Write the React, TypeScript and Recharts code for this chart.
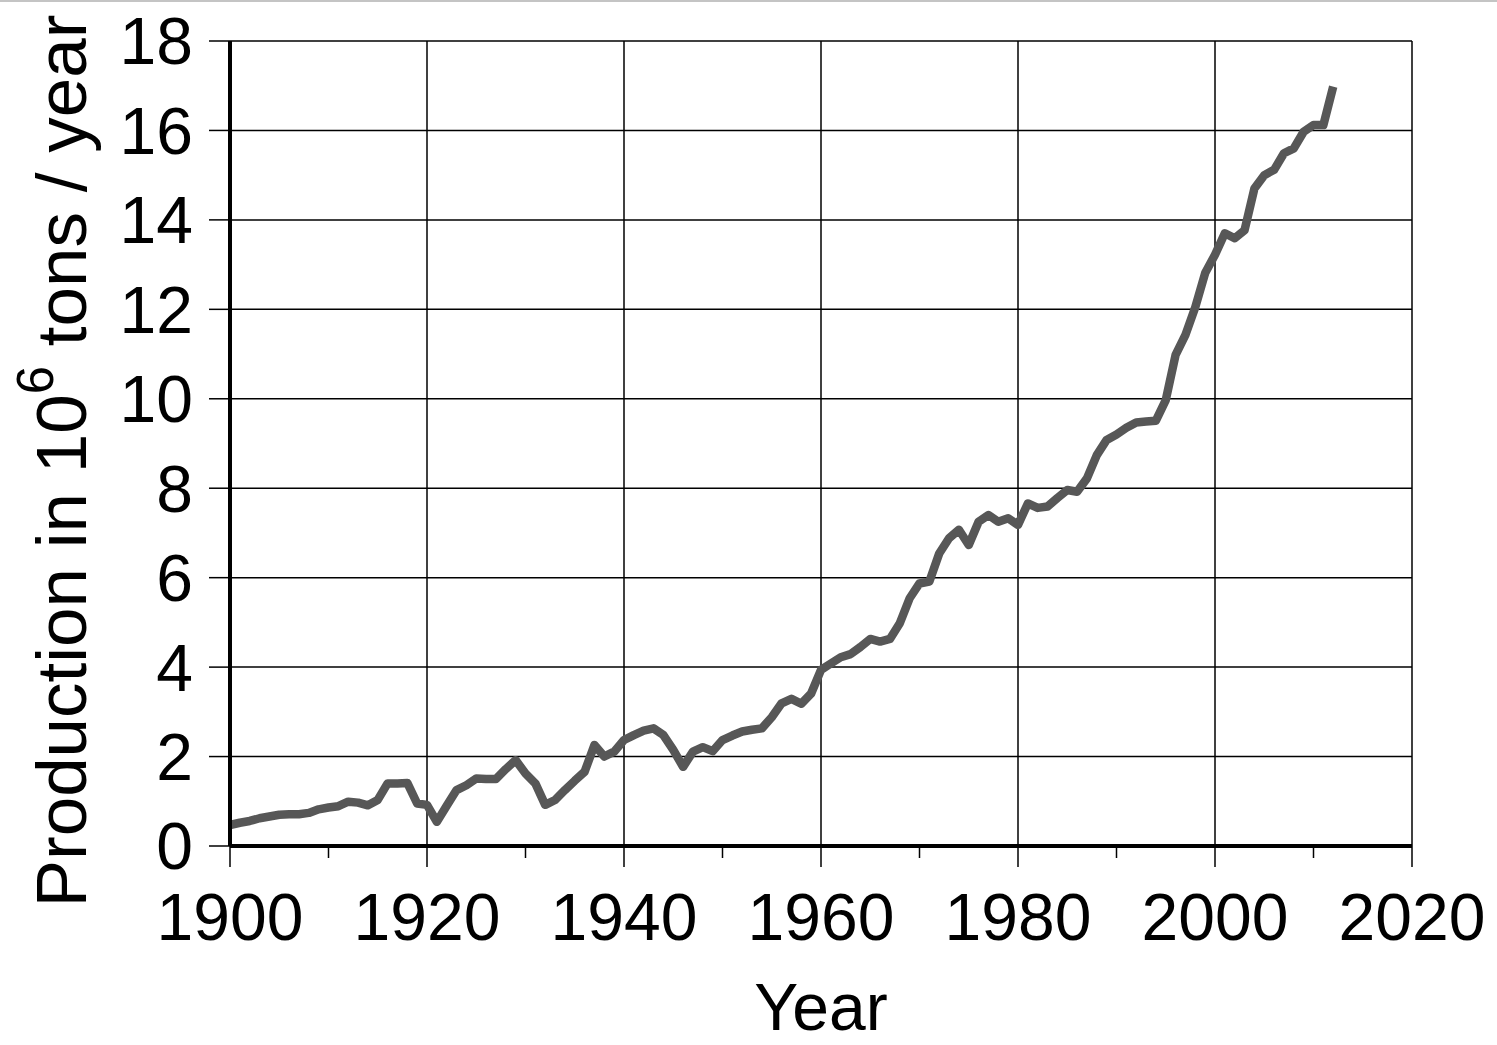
import React from 'react';
import { CartesianGrid, Line, LineChart, ReferenceLine, XAxis, YAxis } from 'recharts';

// production in 10^6 tons / year, one value per year from 1900
const startYear = 1900;
const p1900s = [0.47, 0.52, 0.56, 0.62, 0.66, 0.7, 0.71, 0.71, 0.74, 0.82];
const p1910s = [0.86, 0.89, 0.99, 0.97, 0.91, 1.03, 1.4, 1.4, 1.41, 0.95];
const p1920s = [0.92, 0.54, 0.9, 1.25, 1.36, 1.51, 1.5, 1.5, 1.72, 1.92];
const p1930s = [1.62, 1.4, 0.92, 1.03, 1.25, 1.46, 1.66, 2.26, 2.0, 2.11];
const p1940s = [2.37, 2.48, 2.58, 2.63, 2.48, 2.15, 1.77, 2.11, 2.21, 2.12];
const p1950s = [2.37, 2.47, 2.56, 2.6, 2.63, 2.88, 3.19, 3.29, 3.18, 3.41];
const p1960s = [3.94, 4.08, 4.22, 4.29, 4.45, 4.63, 4.57, 4.63, 4.98, 5.54];
const p1970s = [5.87, 5.91, 6.54, 6.88, 7.07, 6.73, 7.25, 7.4, 7.25, 7.33];
const p1980s = [7.18, 7.66, 7.56, 7.59, 7.78, 7.96, 7.92, 8.22, 8.74, 9.08];
const p1990s = [9.2, 9.35, 9.47, 9.49, 9.51, 9.97, 10.98, 11.43, 12.05, 12.81];
const p2000s = [13.22, 13.7, 13.59, 13.77, 14.7, 15.0, 15.12, 15.49, 15.6, 15.97];
const p2010s = [16.12, 16.12, 16.98];

const xTicks = [1900, 1910, 1920, 1930, 1940, 1950, 1960, 1970, 1980, 1990, 2000, 2010, 2020];
const xGrid = [1920, 1940, 1960, 1980, 2000, 2020];
const yTicks = [0, 2, 4, 6, 8, 10, 12, 14, 16, 18];

const production = [
  ...p1900s, ...p1910s, ...p1920s, ...p1930s, ...p1940s, ...p1950s,
  ...p1960s, ...p1970s, ...p1980s, ...p1990s, ...p2000s, ...p2010s,
];
const data = production.map((v, i) => ({ year: startYear + i, value: v }));

const FONT = '"Liberation Sans", Arial, Helvetica, sans-serif';

const XTick = ({ x, y, payload }: any) => {
  const major = payload.value % 20 === 0;
  return (
    <g>
      <line x1={x} x2={x} y1={y} y2={y + (major ? 21 : 12)} stroke="#000" strokeWidth={1.5} />
      {major && (
        <text x={x} y={y + 94} textAnchor="middle" fontSize={66} fontFamily={FONT} fill="#000">
          {payload.value}
        </text>
      )}
    </g>
  );
};

const YLabel = () => {
  const cx = 86;
  const cy = 461;
  return (
    <text
      x={cx}
      y={cy}
      transform={`rotate(-90, ${cx}, ${cy})`}
      textAnchor="middle"
      fontSize={71}
      fontFamily={FONT}
      fill="#000"
    >
      <tspan>Production in 10</tspan>
      <tspan dy={-33} fontSize={51}>6</tspan>
      <tspan dy={33}> tons / year</tspan>
    </text>
  );
};

export default function App() {
  return (
    <div style={{ fontFamily: FONT }}>
      <style>{'body{margin:0}'}</style>
      <div style={{ position: 'absolute', top: 0, left: 0, width: 1497, height: 2, background: '#c4c4c4' }} />
      <LineChart
        width={1497}
        height={1045}
        data={data}
        margin={{ top: 41, right: 85, bottom: 0, left: 0 }}
      >
        <CartesianGrid vertical={false} stroke="#000" strokeWidth={1.5} />
        {xGrid.map((yr) => (
          <ReferenceLine key={yr} x={yr} stroke="#000" strokeWidth={1.5} />
        ))}
        <XAxis
          dataKey="year"
          type="number"
          domain={[1900, 2020]}
          ticks={xTicks}
          interval={0}
          height={199}
          tickLine={false}
          tickSize={0}
          tickMargin={0}
          tick={<XTick />}
          axisLine={{ stroke: '#000', strokeWidth: 4 }}
          label={{ value: 'Year', position: 'insideBottom', offset: 15, fontSize: 66, fill: '#000', fontFamily: FONT }}
        />
        <YAxis
          type="number"
          domain={[0, 18]}
          ticks={yTicks}
          interval={0}
          width={230}
          tickSize={21}
          tickMargin={16}
          tickLine={{ stroke: '#000', strokeWidth: 1.5 }}
          axisLine={{ stroke: '#000', strokeWidth: 4 }}
          tick={{ fontSize: 66, fill: '#000', fontFamily: FONT }}
          label={{ content: YLabel }}
        />
        <Line
          dataKey="value"
          type="linear"
          stroke="#575757"
          strokeWidth={8.5}
          strokeLinejoin="round"
          dot={false}
          activeDot={false}
          isAnimationActive={false}
        />
      </LineChart>
    </div>
  );
}
